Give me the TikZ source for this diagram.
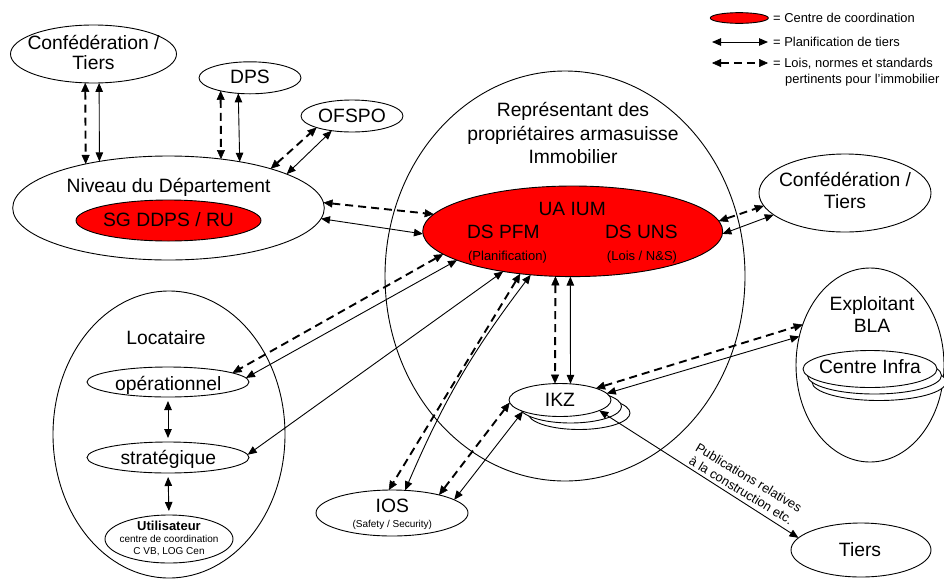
\documentclass[tikz,border=0pt]{standalone}
\usepackage{fontspec}
\setmainfont{Liberation Sans}
\usetikzlibrary{shapes.geometric,arrows.meta}
\begin{document}
\begin{tikzpicture}[x=1pt,y=-1pt,
  ell/.style={ellipse,draw,line width=0.9pt,inner sep=0pt,outer sep=0pt},
  ctr/.style={fill=red},
  wfill/.style={fill=white},
  big/.style={inner sep=0pt,align=center,font=\fontsize{19.3}{22}\selectfont},
  mid/.style={inner sep=0pt,font=\fontsize{19.2}{22}\selectfont},
  sm/.style={inner sep=0pt,font=\fontsize{13}{15}\selectfont},
  tiny/.style={inner sep=0pt,font=\fontsize{10}{12}\selectfont},
  leg/.style={inner sep=0pt,anchor=base west,font=\fontsize{12.9}{15}\selectfont},
  sol/.style={line width=0.9pt,{Triangle[length=9pt,width=7.5pt]}-{Triangle[length=9pt,width=7.5pt]}},
  dsh/.style={line width=1.9pt,dash pattern=on 8pt off 5pt,{Triangle[length=9pt,width=8pt,line width=0.5pt]}-{Triangle[length=9pt,width=8pt,line width=0.5pt]}},
  gap/.style={shorten <=4pt,shorten >=4pt}
]
\fill[white] (0,0) rectangle (944,579);
\useasboundingbox (0,0) rectangle (944,579);

% ---------- ellipses ----------
\node[ell,minimum width=166,minimum height=58] (conf1) at (93.5,54) {};
\node[ell,minimum width=102,minimum height=32] (dps) at (250,77.8) {};
\node[ell,minimum width=102,minimum height=32] (ofspo) at (352,116) {};
\node[ell,minimum width=311.6,minimum height=104] (niveau) at (168.5,208) {};
\node[ell,ctr,minimum width=185,minimum height=41] (sg) at (168.5,220.5) {};

\node[ell,minimum width=360,minimum height=410] (rep) at (565,276) {};
\node[ell,ctr,minimum width=300,minimum height=90.6] (ua) at (572.7,231.3) {};

\node[ell,minimum width=172,minimum height=78] (conf2) at (845,193) {};

\node[ell,minimum width=148,minimum height=194] (expl) at (870,365) {};
\node[ell,wfill,minimum width=134,minimum height=37] (ci3) at (879,382) {};
\node[ell,wfill,minimum width=134,minimum height=37] (ci2) at (874.5,375.5) {};
\node[ell,wfill,minimum width=134,minimum height=37] (ci) at (870,369) {};

\node[ell,minimum width=140,minimum height=54] (tiers) at (861,550) {};

\node[ell,wfill,minimum width=102,minimum height=33] (ikz3) at (579,413) {};
\node[ell,wfill,minimum width=102,minimum height=33] (ikz2) at (570.5,406.5) {};
\node[ell,wfill,minimum width=102,minimum height=33] (ikz) at (560,400) {};

\node[ell,minimum width=152,minimum height=46] (ios) at (392,513) {};

\node[ell,minimum width=232,minimum height=287] (loc) at (169,434.5) {};
\node[ell,minimum width=162,minimum height=30] (oper) at (168,382) {};
\node[ell,minimum width=162,minimum height=31] (strat) at (168,457.5) {};
\node[ell,minimum width=128,minimum height=48] (util) at (169,539) {};

% ---------- texts ----------
\node[big,font=\fontsize{19.3}{20}\selectfont] (tconf1) at (93.5,52.7) {Confédération /\\Tiers};
\node[big,anchor=base] (tdps) at (250,83.3) {DPS};
\node[big,anchor=base] (tofspo) at (352,122.7) {OFSPO};
\node[big,anchor=base] (tniveau) at (168.5,192.7) {Niveau du Département};
\node[big,anchor=base] (tsg) at (168.5,226.7) {SG DDPS / RU};

\node[big,font=\fontsize{19.3}{23.3}\selectfont] (trep) at (573,133) {Représentant des\\propriétaires armasuisse\\Immobilier};
\node[mid,anchor=base] (tua) at (572.2,215) {UA IUM};
\node[mid,anchor=base] (tpfm) at (503.3,238.3) {DS PFM};
\node[mid,anchor=base] (tuns) at (641.3,238.3) {DS UNS};
\node[sm,anchor=base] (tplan) at (507.5,260) {(Planification)};
\node[sm,anchor=base] (tlois) at (642,260) {(Lois / N\&S)};

\node[big] (tconf2) at (845,190.8) {Confédération /\\Tiers};
\node[big] (texpl) at (872,314.4) {Exploitant\\BLA};
\node[big,anchor=base] (tci) at (870,373.3) {Centre Infra};
\node[big,anchor=base] (ttiers) at (860,556) {Tiers};
\node[big,anchor=base] (tikz) at (560,406) {IKZ};
\node[big,anchor=base] (tios) at (392.3,512.7) {IOS};
\node[tiny,anchor=base] (tsafe) at (392.3,527.3) {(Safety / Security)};

\node[big,anchor=base] (tloc) at (166,344.3) {Locataire};
\node[big,anchor=base] (toper) at (168.3,390) {opérationnel};
\node[big,anchor=base] (tstrat) at (168.3,464) {stratégique};
\node[sm,anchor=base,font=\fontsize{13}{15}\bfseries] (tutil) at (169,530.7) {Utilisateur};
\node[tiny,anchor=base] (tcoord) at (169,542) {centre de coordination};
\node[tiny,anchor=base] (tcvb) at (169,554) {C VB, LOG Cen};

% ---------- connectors ----------
\draw[dsh] (conf1.-106.3) -- (niveau.152.3);
\draw[sol] (conf1.-79.3) -- (niveau.146.2);
\draw[dsh] (dps.-156.7) -- (niveau.43.6);
\draw[sol] (dps.-127.7) -- (niveau.33.8);
\draw[dsh] (niveau.21) -- (ofspo.-162.9);
\draw[sol] (niveau.16.1) -- (ofspo.-144.7);
\draw[dsh] (niveau.2.6) -- (ua.173.7);
\draw[sol] (niveau.-4.1) -- (ua.-179.3);
\draw[dsh] (ua.4.2) -- (conf2.-171.8);
\draw[sol] (ua.-1.5) -- (conf2.-163);
\draw[dsh] (ua.-170) -- (oper.8.4);
\draw[sol] (ua.-166.9) -- (oper.3.7);
\draw[sol] (ua.-150) -- (strat.2.8);
\draw[dsh] (ua.-141.8) -- (ios.98.2);
\draw[sol] (ua.-134.6) to[bend right=7] (ios.60.2);
\draw[dsh] (ua.-111.9) -- (ikz.107.4);
\draw[sol] (ua.-93.8) -- (ikz.57.5);
\draw[dsh] (ios.21.4) -- (ikz.-177);
\draw[sol] (ios.12.4) -- (ikz.-163.7);
\draw[dsh] (ikz.18) -- (expl.149.2);
\draw[sol] (ikz.8.7) -- (expl.158.2);
\draw[sol] (ikz.-15.7) -- (tiers.169.7);
\draw[sol,gap] (oper.south) -- (strat.north);
\draw[sol,gap] (strat.south) -- (util.north);

\node[inner sep=0pt,align=center,rotate=-31,font=\fontsize{12.9}{15}\selectfont] (tpub) at (745,484) {Publications relatives\\à la construction etc.};

% ---------- legend ----------
\node[ell,ctr,minimum width=58,minimum height=10.7] (lred) at (739.3,18) {};
\node[leg] (lt1) at (773,22.2) {= Centre de coordination};
\coordinate (la1) at (712,42);
\coordinate (lb1) at (768,42);
\draw[sol] (la1) -- (lb1);
\node[leg] (lt2) at (773,46.2) {= Planification de tiers};
\coordinate (la2) at (712,63);
\coordinate (lb2) at (768,63);
\draw[dsh] (la2) -- (lb2);
\node[leg] (lt3) at (773,67.2) {= Lois, normes et standards};
\node[leg] (lt4) at (785,83) {pertinents pour l'immobilier};
\end{tikzpicture}
\end{document}
